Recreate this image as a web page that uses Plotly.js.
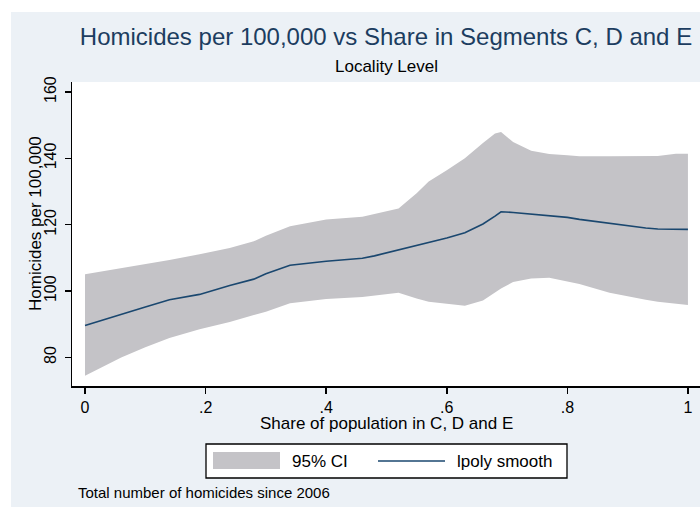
<!DOCTYPE html>
<html>
<head>
<meta charset="utf-8">
<script src="https://cdn.plot.ly/plotly-3.0.1.min.js"></script>
<style>html,body{margin:0;padding:0;background:#fff;}#chart{width:700px;height:507px;}</style>
</head>
<body>
<div id="chart"></div>
<script>
// ---- data ----
var share = [0, 0.04, 0.06, 0.10, 0.14, 0.19, 0.24, 0.28, 0.30, 0.34, 0.40, 0.46, 0.48, 0.52, 0.55, 0.57, 0.60, 0.63, 0.66, 0.68, 0.69, 0.71, 0.74, 0.77, 0.80, 0.82, 0.87, 0.90, 0.93, 0.95, 0.98, 1.00];
var smooth = [89.6, 91.9, 93.1, 95.2, 97.4, 99.0, 101.7, 103.6, 105.2, 107.8, 109.0, 109.9, 110.6, 112.4, 113.6, 114.5, 116.0, 117.6, 120.2, 122.6, 123.9, 123.7, 123.2, 122.9, 122.2, 121.6, 120.4, 119.5, 119.0, 118.7, 118.6, 118.6];
var ciUpper = [105.1, 106.3, 106.8, 108.2, 109.4, 111.1, 113.0, 115.0, 116.7, 119.5, 121.6, 122.4, 123.2, 124.9, 129.5, 133.0, 136.4, 140.0, 144.6, 147.5, 147.9, 144.9, 142.3, 141.3, 140.9, 140.6, 140.6, 140.6, 140.6, 140.7, 141.4, 141.4];
var ciLower = [74.5, 78.2, 80.0, 83.1, 85.9, 88.5, 90.7, 92.8, 93.8, 96.3, 97.6, 98.2, 98.6, 99.5, 97.8, 96.8, 96.2, 95.6, 97.2, 99.6, 100.8, 102.7, 103.8, 104.0, 102.8, 102.1, 99.5, 98.4, 97.4, 96.8, 96.2, 95.8];
var xTickVals = [0, 0.2, 0.4, 0.6, 0.8, 1];
var xTickText = ['0', '.2', '.4', '.6', '.8', '1'];
var yTickVals = [80, 100, 120, 140, 160];
var yGridVals = [80, 100, 120, 140];
var seriesNames = ['95% CI', 'lpoly smooth'];

// ---- styling / geometry ----
var W = 700, H = 507, ML = 72, MR = 0, MT = 82, MB = 121;
var PW = W - ML - MR, PH = H - MT - MB;
function fx(px) { return (px - ML) / PW; }
function fy(py) { return (H - MB - py) / PH; }
var FONT = 'Liberation Sans, Arial, Helvetica, sans-serif';
var BG = '#ecf1f6';
var NAVY = '#1a476f';
var TITLE = '#1c3d60';
var CI = '#c4c3c7';

var traces = [
  {x: share, y: ciLower, type: 'scatter', mode: 'lines', line: {width: 0, color: CI},
   showlegend: false, hoverinfo: 'skip', name: 'lower'},
  {x: share, y: ciUpper, type: 'scatter', mode: 'lines', line: {width: 0, color: CI},
   fill: 'tonexty', fillcolor: CI, showlegend: false, name: seriesNames[0]},
  {x: share, y: smooth, type: 'scatter', mode: 'lines', line: {width: 1.6, color: NAVY},
   showlegend: false, name: seriesNames[1]}
];

var layout = {
  width: W, height: H,
  margin: {l: ML, r: MR, t: MT, b: MB, pad: 0},
  paper_bgcolor: BG, plot_bgcolor: '#ffffff',
  font: {family: FONT, color: '#000', size: 16},
  showlegend: false,
  title: {text: 'Homicides per 100,000 vs Share in Segments C, D and E',
          font: {family: FONT, size: 24, color: TITLE},
          xref: 'paper', x: 0.5, xanchor: 'center',
          yref: 'container', y: 1 - 37 / H, yanchor: 'middle'},
  xaxis: {range: [-0.0216, 1.020], tickvals: xTickVals, ticktext: xTickText,
          ticks: 'outside', ticklen: 6, tickwidth: 1.5, tickcolor: '#000',
          showline: true, linecolor: '#000', linewidth: 1.5, showgrid: false, zeroline: false,
          tickfont: {size: 16, family: FONT, color: '#000'}},
  yaxis: {range: [71.4, 163], tickvals: yTickVals, tickangle: -90,
          ticks: 'outside', ticklen: 6, tickwidth: 1.5, tickcolor: '#000', ticklabelstandoff: 2,
          showline: true, linecolor: '#000', linewidth: 1.5, showgrid: false, zeroline: false,
          tickfont: {size: 16, family: FONT, color: '#000'}},
  yaxis2: {overlaying: 'y', range: [71.4, 163], tickvals: yGridVals, showticklabels: false,
           ticks: '', showline: false, showgrid: true, gridcolor: '#e6edf3', gridwidth: 1, zeroline: false},
  shapes: [
    {type: 'rect', xref: 'paper', yref: 'paper', x0: fx(-5), x1: fx(11), y0: fy(520), y1: fy(-5),
     fillcolor: '#ffffff', line: {width: 0}},
    {type: 'rect', xref: 'paper', yref: 'paper', x0: fx(-5), x1: fx(710), y0: fy(12), y1: fy(-5),
     fillcolor: '#ffffff', line: {width: 0}},
    // legend frame
    {type: 'rect', xref: 'paper', yref: 'paper', x0: fx(206), x1: fx(567), y0: fy(478), y1: fy(444),
     fillcolor: '#ffffff', line: {width: 1.3, color: '#000'}},
    // legend CI swatch
    {type: 'rect', xref: 'paper', yref: 'paper', x0: fx(213), x1: fx(280), y0: fy(469), y1: fy(452),
     fillcolor: CI, line: {width: 0}},
    // legend line sample
    {type: 'line', xref: 'paper', yref: 'paper', x0: fx(378), x1: fx(445), y0: fy(461), y1: fy(461),
     line: {width: 1.6, color: NAVY}}
  ],
  annotations: [
    {text: 'Locality Level', xref: 'paper', yref: 'paper', x: 0.5, y: fy(66),
     xanchor: 'center', yanchor: 'middle', showarrow: false, font: {size: 17, color: '#000', family: FONT}},
    {text: 'Homicides per 100,000', xref: 'paper', yref: 'paper', x: fx(35), y: fy(224),
     xanchor: 'center', yanchor: 'middle', textangle: -90, showarrow: false, font: {size: 17, color: '#000', family: FONT}},
    {text: 'Share of population in C, D and E', xref: 'paper', yref: 'paper', x: 0.5, y: fy(423),
     xanchor: 'center', yanchor: 'middle', showarrow: false, font: {size: 17, color: '#000', family: FONT}},
    {text: seriesNames[0], xref: 'paper', yref: 'paper', x: fx(290), y: fy(461),
     xanchor: 'left', yanchor: 'middle', showarrow: false, font: {size: 17, color: '#000', family: FONT}},
    {text: seriesNames[1], xref: 'paper', yref: 'paper', x: fx(455), y: fy(461),
     xanchor: 'left', yanchor: 'middle', showarrow: false, font: {size: 17, color: '#000', family: FONT}},
    {text: 'Total number of homicides since 2006', xref: 'paper', yref: 'paper', x: fx(76), y: fy(492),
     xanchor: 'left', yanchor: 'middle', showarrow: false, font: {size: 15, color: '#000', family: FONT}}
  ]
};

Plotly.newPlot('chart', traces, layout, {displayModeBar: false, staticPlot: true});
</script>
</body>
</html>
